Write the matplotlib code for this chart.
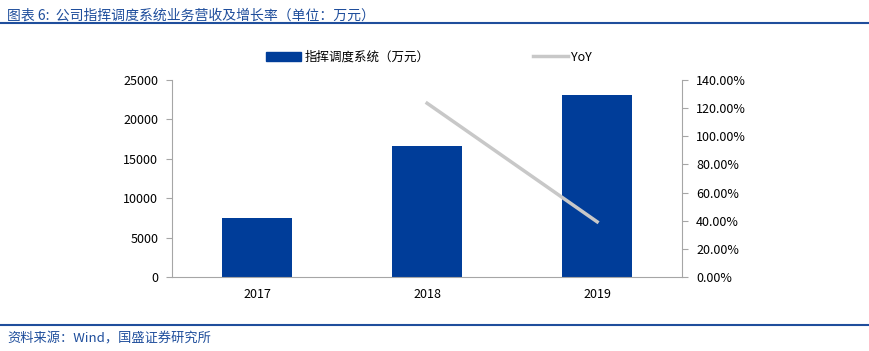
import matplotlib
matplotlib.use("Agg")
import matplotlib.pyplot as plt
from matplotlib.lines import Line2D
from matplotlib.patches import Patch
from matplotlib.ticker import FuncFormatter

plt.rcParams['font.family'] = ['Noto Sans CJK SC', 'DejaVu Sans']
plt.rcParams['font.size'] = 9

years = ["2017", "2018", "2019"]
revenue = [7500, 16600, 23100]
yoy_years = ["2018", "2019"]
yoy = [123.5, 39.2]

bar_color = "#003D99"
line_color = "#C8C8C8"
title_color = "#1F4E9C"
axis_grey = "#A6A6A6"

fig = plt.figure(figsize=(8.69, 3.51), dpi=100)
ax = fig.add_axes([0.198, 0.211, 0.587, 0.561])
x = list(range(len(years)))
ax.bar(x, revenue, width=0.41, color=bar_color, zorder=2)
ax.set_xlim(-0.5, 2.5)
ax.set_ylim(0, 25000)
ax.set_yticks(range(0, 25001, 5000))
ax.set_xticks(x)
ax.set_xticklabels(years)
ax.tick_params(axis='x', length=0, pad=8)
ax.tick_params(axis='y', direction='out', length=4, color=axis_grey, pad=6)
for s in ["top", "right"]:
    ax.spines[s].set_visible(False)
for s in ["left", "bottom"]:
    ax.spines[s].set_color(axis_grey)

ax2 = ax.twinx()
xi = [years.index(y) for y in yoy_years]
ax2.plot(xi, yoy, color=line_color, linewidth=2.5, zorder=3)
ax2.set_ylim(0, 140)
ax2.set_yticks(range(0, 141, 20))
ax2.yaxis.set_major_formatter(FuncFormatter(lambda v, p: f"{v:.2f}%"))
ax2.tick_params(axis='y', direction='out', length=4, color=axis_grey, pad=6)
for s in ["top", "left", "bottom"]:
    ax2.spines[s].set_visible(False)
ax2.spines["right"].set_color(axis_grey)

handles = [Patch(facecolor=bar_color, edgecolor=bar_color),
           Line2D([0], [0], color=line_color, linewidth=2.5)]
fig.legend(handles, ["指挥调度系统（万元）", "YoY"], loc="center",
           bbox_to_anchor=(0.494, 0.837), ncol=2, frameon=False,
           columnspacing=8.3, handlelength=2.8, handletextpad=0.25)

# header and footer
fig.text(0.008, 0.975, "图表 6:  公司指挥调度系统业务营收及增长率（单位：万元）",
         color=title_color, fontsize=10, style='italic', va='top', ha='left')
fig.add_artist(Line2D([0, 1], [0.935, 0.935], color=title_color, linewidth=1.5))
fig.add_artist(Line2D([0, 1], [0.073, 0.073], color=title_color, linewidth=1.5))
fig.text(0.008, 0.052, "资料来源：Wind，国盛证券研究所", color=title_color,
         fontsize=9.5, style='italic', va='top', ha='left')

fig.savefig("out.png", dpi=100)
